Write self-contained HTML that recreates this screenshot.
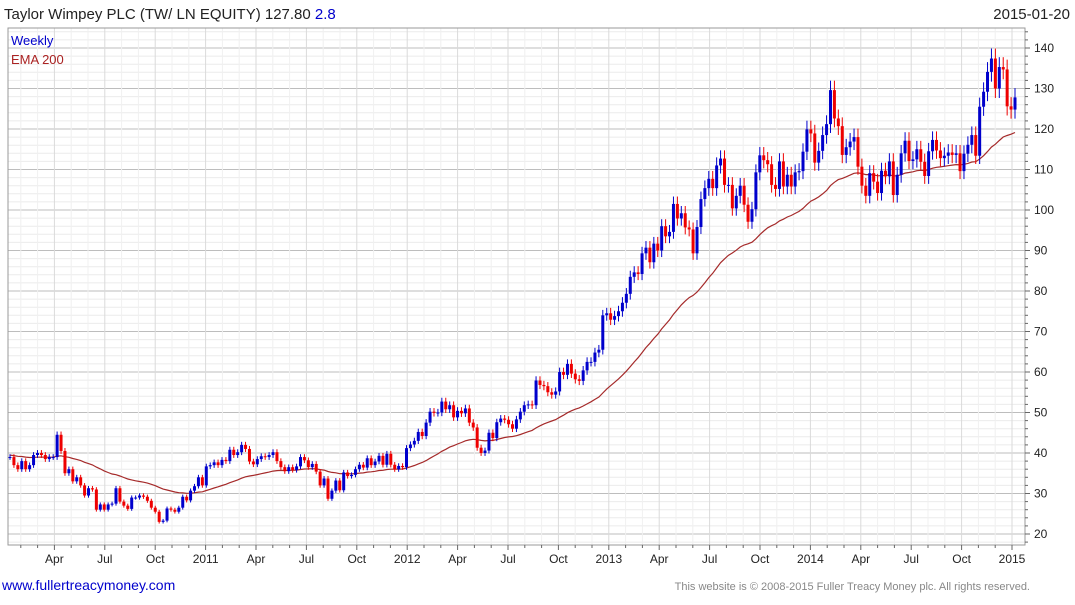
<!DOCTYPE html>
<html><head><meta charset="utf-8"><style>
body{margin:0;background:#fff;font-family:"Liberation Sans",sans-serif;}
svg text{font-family:"Liberation Sans",sans-serif;}
</style></head><body>
<svg id="chart" width="1075" height="600" xmlns="http://www.w3.org/2000/svg">
<rect width="1075" height="600" fill="#fff"/>
<g id="grid"></g>
<g id="ema"></g>
<g id="candles"></g>
<g id="axes"></g>
<text x="4" y="19" font-size="15" fill="#222">Taylor Wimpey PLC (TW/ LN EQUITY) 127.80 <tspan fill="#0000cc">2.8</tspan></text>
<text x="1070" y="19" font-size="15" fill="#222" text-anchor="end">2015-01-20</text>
<text x="11" y="45" font-size="13" fill="#0000cc">Weekly</text>
<text x="11" y="64" font-size="13" fill="#aa2222">EMA 200</text>
<text x="2" y="590" font-size="14" fill="#0000cc">www.fullertreacymoney.com</text>
<text x="1030" y="590" font-size="11" fill="#888" text-anchor="end">This website is © 2008-2015 Fuller Treacy Money plc. All rights reserved.</text>
</svg>
<script>
const closes = [39,37,36,38,36,37,39.5,40,39.5,38.5,39,39,44.5,40.5,35,36,33,34,32,29.5,31.3,31,26,27.3,26,27.3,27.5,31.3,28,27,26.2,29,29,29.5,29.2,28.2,26.5,25.5,23,23.3,26.3,26,25.5,26.5,29.2,28.3,30.7,31.8,34,32,36.7,37,37.7,37,38.3,38,40.8,39.5,40.2,42,41,37.9,37.2,38.5,39.2,39,
39.5,40.2,38,36.5,35.5,36.5,35.8,36.7,39,38.2,36.5,37.3,35.4,32,33.7,28.7,30.7,33.2,30.8,35.2,34.3,34.6,36,37.1,36.4,38.7,37,37.9,39.3,37.1,39.8,37.1,36,36.8,36.5,41.2,42.1,43,45.2,44.2,47.5,50.2,49.9,50,52.7,50.8,51.8,48.8,50.4,49.8,51,47.5,46.3,41.3,40,40.6,45,43.7,47.6,48.5,48.2,47.1,46,48.3,50.2,51.8,52,51.8,57.9,
56.8,56.5,55,54.4,55.2,60,59.3,62,59.6,58.2,57.8,60.4,62.5,62.5,64.8,65.5,74,74.5,72.9,73.8,75,77.1,79.3,83.5,84.6,84.2,89.3,90.7,87.1,91.7,90,96,93.5,94.6,101.5,97.9,99.2,95.7,95.2,89.3,95.8,102.7,105.4,107.7,105.4,111,112.7,106.2,106.2,100.4,103.5,106,101.3,97.1,100.2,109.3,113.5,112.3,111.3,106.2,105.2,112,105.8,108.7,105.8,109.3,109.6,
114.4,119.9,118.9,111.7,114.6,118.5,121.2,129.6,122.6,120.7,113.6,115.5,116.9,118,110.7,106,103.5,109.1,107,104.2,109.7,108.3,112,103.7,108.7,114,117.1,112.1,112.5,115,111.9,108.4,114.5,117.3,114.7,112.8,113.4,114.2,113.6,114,109.6,113.9,116.1,118.5,113.4,125.5,129.2,134.1,137.4,130,135.3,134.7,125.6,124.8,127.8];
const yTicks = [20,30,40,50,60,70,80,90,100,110,120,130,140];
const xLabels = ["Apr","Jul","Oct","2011","Apr","Jul","Oct","2012","Apr","Jul","Oct","2013","Apr","Jul","Oct","2014","Apr","Jul","Oct","2015"];
const NS="http://www.w3.org/2000/svg";
const L=8,R=1025,T=28,B=545;
const yScale=v=>48+(140-v)*4.05;
const monthX=m=>4+m*(1012-4)/60; // m months since Jan 2010
const n=closes.length;
const xScale=i=>10+i*(1015-10)/(n-1);
function mk(tag,attrs,parent){const e=document.createElementNS(NS,tag);for(const k in attrs)e.setAttribute(k,attrs[k]);parent.appendChild(e);return e;}
const grid=document.getElementById('grid'),axes=document.getElementById('axes');
// horizontal grid
for(let v=18;v<=144;v+=2){const y=yScale(v);if(y<T||y>B)continue;
 const l=mk('line',{x1:L,x2:R,y1:y,y2:y,stroke:v%10===0?'#bdbdbd':'#ebebeb','stroke-width':1},grid);
 
 }
// vertical grid
for(let m=1;m<=60;m++){const x=monthX(m);if(x>R)continue;
 const major=m%3===0;
 const l=mk('line',{x1:x,x2:x,y1:T,y2:B,stroke:major?'#dadada':'#f0f0f0','stroke-width':1},grid);
 
 }
// frame
const fr=mk('rect',{x:L,y:T,width:R-L,height:B-T,fill:'none',stroke:'#999','stroke-width':1},axes);


yTicks.forEach(v=>{const y=yScale(v);
 const t=mk('text',{x:1034,y:y+4,'font-size':12,fill:'#222'},axes);t.textContent=v;
 
 
 mk('line',{x1:R,x2:R+5,y1:y,y2:y,stroke:'#666'},axes);});
for(let v=18;v<=144;v+=2){const y=yScale(v);if(y<T||y>B||v%10===0)continue;mk('line',{x1:R,x2:R+3,y1:y,y2:y,stroke:'#666'},axes);}
xLabels.forEach((s,i)=>{const x=monthX((i+1)*3);
 const t=mk('text',{x:x,y:563,'font-size':12,fill:'#222','text-anchor':'middle'},axes);t.textContent=s;
 
 });
for(let m=0;m<=60;m++){const x=monthX(m);if(x<L||x>R)continue;mk('line',{x1:x,x2:x,y1:B,y2:B+(m%3===0?5:3),stroke:'#666'},axes);}
// EMA
let e=39.5;const a=2/41;let pts=[];
closes.forEach((c,i)=>{e=e+a*(c-e);pts.push(xScale(i).toFixed(1)+','+yScale(e).toFixed(1));});
const pl=mk('polyline',{points:pts.join(' '),fill:'none',stroke:'#a52a2a','stroke-width':1.2},document.getElementById('ema'));


// candles
const cg=document.getElementById('candles');
closes.forEach((c,i)=>{const o=i?closes[i-1]:c;const up=c>=o;const col=up?'#0000cc':'#ee0000';
 const x=xScale(i);const hi=Math.max(o,c)*1.018,lo=Math.min(o,c)*0.982;
 const g=mk('g',{},cg);
 
 
 mk('line',{x1:x,x2:x,y1:yScale(hi),y2:yScale(lo),stroke:col,'stroke-width':1},g);
 const y1=yScale(Math.max(o,c)),y2=yScale(Math.min(o,c));
 mk('rect',{x:x-1.5,y:y1,width:3,height:Math.max(1,y2-y1),fill:col},g);});
</script>
</body></html>
